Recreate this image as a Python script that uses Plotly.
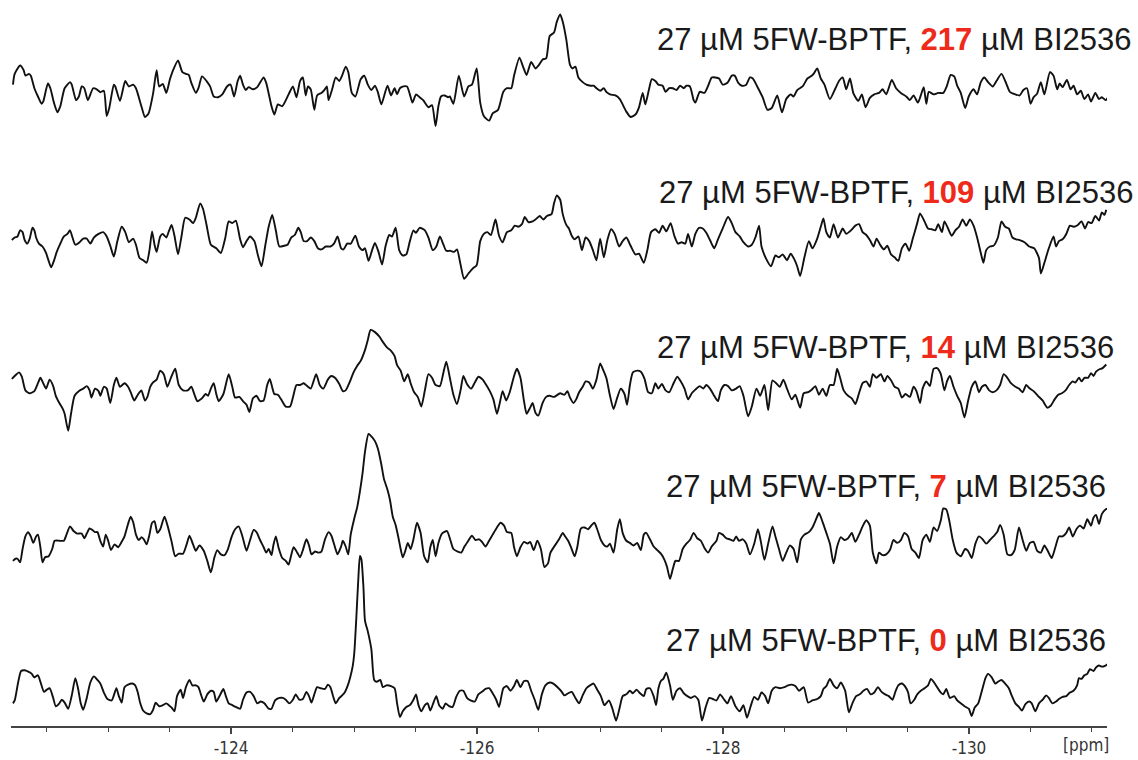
import plotly.graph_objects as go

spec_217 = [(-122.227,115),(-122.241,145),(-122.285,168),(-122.314,155),(-122.328,140),(-122.357,145),(-122.372,140),(-122.401,105),(-122.430,82),(-122.459,62),
(-122.473,68),(-122.511,118),(-122.531,105),(-122.560,65),(-122.589,38),(-122.612,55),(-122.647,105),(-122.691,122),(-122.705,115),(-122.740,72),
(-122.763,82),(-122.786,110),(-122.807,105),(-122.836,72),(-122.879,105),(-122.908,102),(-122.937,94),(-122.966,98),(-122.989,28),(-123.010,50),
(-123.047,115),(-123.059,110),(-123.097,70),(-123.140,125),(-123.169,110),(-123.204,115),(-123.227,105),(-123.271,55),(-123.300,25),(-123.329,35),
(-123.366,90),(-123.395,155),(-123.416,110),(-123.445,117),(-123.474,92),(-123.503,130),(-123.523,150),(-123.569,182),(-123.604,150),(-123.633,145),
(-123.656,142),(-123.677,120),(-123.714,92),(-123.735,105),(-123.764,138),(-123.801,125),(-123.830,110),(-123.859,82),(-123.894,80),(-123.929,88),
(-123.967,110),(-123.996,115),(-124.025,82),(-124.054,125),(-124.074,140),(-124.097,115),(-124.120,100),(-124.143,108),(-124.178,102),(-124.213,108),
(-124.265,135),(-124.286,120),(-124.329,55),(-124.352,32),(-124.381,60),(-124.416,55),(-124.468,88),(-124.503,110),(-124.532,80),(-124.561,125),
(-124.584,135),(-124.607,85),(-124.625,110),(-124.648,102),(-124.677,45),(-124.700,85),(-124.735,92),(-124.758,100),(-124.779,110),(-124.793,72),
(-124.822,102),(-124.851,135),(-124.880,125),(-124.903,140),(-124.932,165),(-124.953,150),(-124.982,92),(-125.011,82),(-125.054,130),(-125.083,140),
(-125.112,115),(-125.141,100),(-125.170,112),(-125.193,95),(-125.222,60),(-125.272,112),(-125.301,85),(-125.330,105),(-125.350,88),(-125.373,105),
(-125.402,110),(-125.431,110),(-125.454,88),(-125.475,65),(-125.504,88),(-125.533,80),(-125.562,72),(-125.582,62),(-125.605,52),(-125.634,58),
(-125.663,0),(-125.686,55),(-125.707,82),(-125.736,85),(-125.765,80),(-125.779,82),(-125.808,62),(-125.852,140),(-125.895,82),(-125.930,110),
(-125.959,115),(-125.997,160),(-126.026,65),(-126.055,28),(-126.098,15),(-126.127,35),(-126.171,45),(-126.214,95),(-126.243,105),(-126.278,105),
(-126.301,140),(-126.345,190),(-126.374,165),(-126.403,142),(-126.440,178),(-126.475,160),(-126.504,170),(-126.533,185),(-126.562,188),(-126.591,250),
(-126.626,260),(-126.649,290),(-126.676,310),(-126.697,290),(-126.726,240),(-126.756,170),(-126.776,160),(-126.800,165),(-126.824,135),(-126.859,122),
(-126.889,115),(-126.924,112),(-126.948,112),(-126.971,105),(-127.001,98),(-127.031,105),(-127.051,95),(-127.081,88),(-127.125,85),(-127.161,75),
(-127.184,60),(-127.214,40),(-127.249,25),(-127.288,32),(-127.317,52),(-127.347,92),(-127.368,60),(-127.397,100),(-127.421,130),(-127.450,125),
(-127.474,115),(-127.509,112),(-127.533,95),(-127.563,105),(-127.592,105),(-127.622,100),(-127.651,112),(-127.681,105),(-127.702,112),(-127.731,110),
(-127.761,72),(-127.775,65),(-127.811,95),(-127.849,92),(-127.879,112),(-127.908,135),(-127.938,135),(-127.968,132),(-127.997,115),(-128.036,120),
(-128.071,140),(-128.095,140),(-128.124,120),(-128.154,112),(-128.189,115),(-128.219,135),(-128.242,132),(-128.278,110),(-128.322,80),(-128.361,45),
(-128.396,50),(-128.441,85),(-128.479,38),(-128.514,75),(-128.550,88),(-128.574,82),(-128.603,100),(-128.647,110),(-128.686,132),(-128.715,138),
(-128.736,145),(-128.766,160),(-128.795,132),(-128.825,115),(-128.869,75),(-128.914,105),(-128.943,125),(-128.973,135),(-129.002,102),(-129.032,132),
(-129.061,90),(-129.100,70),(-129.129,88),(-129.159,52),(-129.194,78),(-129.230,88),(-129.268,92),(-129.298,102),(-129.327,88),(-129.372,128),
(-129.407,105),(-129.446,92),(-129.490,82),(-129.519,72),(-129.549,85),(-129.585,65),(-129.608,85),(-129.632,108),(-129.653,62),(-129.673,95),
(-129.712,88),(-129.750,92),(-129.791,92),(-129.821,112),(-129.851,142),(-129.880,138),(-129.904,112),(-129.933,92),(-129.969,50),(-129.998,82),
(-130.037,102),(-130.066,88),(-130.096,122),(-130.125,135),(-130.155,122),(-130.193,110),(-130.223,125),(-130.264,145),(-130.303,118),(-130.332,95),
(-130.377,88),(-130.412,85),(-130.442,100),(-130.471,105),(-130.501,62),(-130.525,80),(-130.554,90),(-130.584,122),(-130.613,88),(-130.658,150),
(-130.687,140),(-130.717,102),(-130.737,118),(-130.761,108),(-130.796,128),(-130.826,102),(-130.850,112),(-130.879,88),(-130.909,98),(-130.938,75),
(-130.968,88),(-130.992,68),(-131.027,92),(-131.057,75),(-131.080,80),(-131.110,72),(-131.131,80)]

spec_109 = [(-122.218,118),(-122.241,125),(-122.264,128),(-122.285,145),(-122.305,140),(-122.322,118),(-122.343,108),(-122.363,122),(-122.386,152),(-122.401,145),
(-122.415,125),(-122.438,108),(-122.467,100),(-122.496,82),(-122.517,60),(-122.537,42),(-122.560,60),(-122.583,85),(-122.612,108),(-122.641,128),
(-122.670,135),(-122.691,145),(-122.711,125),(-122.734,105),(-122.769,112),(-122.798,122),(-122.827,122),(-122.856,108),(-122.885,125),(-122.923,135),
(-122.960,140),(-122.989,128),(-123.018,102),(-123.047,72),(-123.076,115),(-123.111,155),(-123.140,140),(-123.169,112),(-123.204,122),(-123.227,105),
(-123.256,68),(-123.285,62),(-123.314,55),(-123.337,90),(-123.358,142),(-123.378,105),(-123.395,85),(-123.424,128),(-123.445,135),(-123.474,125),
(-123.494,142),(-123.517,160),(-123.540,130),(-123.569,78),(-123.598,130),(-123.627,180),(-123.662,175),(-123.691,165),(-123.714,180),(-123.749,220),
(-123.772,205),(-123.801,160),(-123.836,105),(-123.880,95),(-123.917,82),(-123.952,122),(-123.981,170),(-124.010,165),(-124.039,172),(-124.074,120),
(-124.097,98),(-124.126,115),(-124.155,128),(-124.190,115),(-124.219,75),(-124.248,45),(-124.277,100),(-124.306,155),(-124.335,188),(-124.364,145),
(-124.393,100),(-124.431,102),(-124.460,105),(-124.489,125),(-124.518,132),(-124.547,152),(-124.567,140),(-124.590,115),(-124.619,115),(-124.648,125),
(-124.677,115),(-124.706,95),(-124.735,92),(-124.770,100),(-124.808,100),(-124.837,108),(-124.866,128),(-124.895,95),(-124.915,92),(-124.944,108),
(-124.973,108),(-125.011,130),(-125.040,100),(-125.069,90),(-125.089,95),(-125.118,60),(-125.147,90),(-125.170,110),(-125.199,85),(-125.228,50),
(-125.257,102),(-125.286,132),(-125.309,128),(-125.338,152),(-125.367,90),(-125.396,75),(-125.425,78),(-125.454,115),(-125.483,145),(-125.504,138),
(-125.533,152),(-125.576,145),(-125.605,125),(-125.640,90),(-125.669,100),(-125.698,128),(-125.727,105),(-125.750,88),(-125.785,88),(-125.814,85),
(-125.837,92),(-125.866,50),(-125.895,10),(-125.930,25),(-125.968,40),(-125.997,48),(-126.026,115),(-126.055,135),(-126.084,140),(-126.113,132),
(-126.150,175),(-126.179,130),(-126.208,112),(-126.243,140),(-126.278,145),(-126.307,158),(-126.336,155),(-126.365,162),(-126.388,182),(-126.417,168),
(-126.452,170),(-126.475,175),(-126.510,185),(-126.539,175),(-126.568,185),(-126.606,190),(-126.626,220),(-126.649,242),(-126.676,230),(-126.697,190),
(-126.726,160),(-126.747,150),(-126.770,130),(-126.794,120),(-126.824,128),(-126.853,90),(-126.883,125),(-126.912,115),(-126.942,90),(-126.971,62),
(-127.001,122),(-127.031,70),(-127.060,118),(-127.090,148),(-127.119,135),(-127.155,100),(-127.184,115),(-127.214,125),(-127.249,102),(-127.288,78),
(-127.317,80),(-127.356,55),(-127.385,90),(-127.415,140),(-127.450,148),(-127.480,138),(-127.509,158),(-127.539,142),(-127.574,165),(-127.604,130),
(-127.634,108),(-127.663,112),(-127.693,108),(-127.716,135),(-127.746,100),(-127.775,135),(-127.805,152),(-127.835,150),(-127.864,138),(-127.894,118),
(-127.929,95),(-127.959,120),(-127.997,150),(-128.041,182),(-128.071,165),(-128.101,140),(-128.136,128),(-128.166,112),(-128.204,100),(-128.234,105),
(-128.263,125),(-128.293,158),(-128.313,100),(-128.352,65),(-128.390,45),(-128.426,75),(-128.455,70),(-128.485,78),(-128.520,62),(-128.550,80),
(-128.579,65),(-128.603,45),(-128.627,18),(-128.662,70),(-128.698,115),(-128.727,95),(-128.766,122),(-128.795,155),(-128.816,178),(-128.840,140),
(-128.869,125),(-128.899,162),(-128.934,125),(-128.973,150),(-129.002,135),(-129.041,145),(-129.076,158),(-129.106,162),(-129.135,140),(-129.165,132),
(-129.194,118),(-129.224,100),(-129.248,122),(-129.277,105),(-129.307,92),(-129.336,102),(-129.366,78),(-129.395,70),(-129.425,60),(-129.454,95),
(-129.484,108),(-129.514,88),(-129.543,122),(-129.579,165),(-129.602,192),(-129.638,170),(-129.667,150),(-129.697,148),(-129.726,145),(-129.750,162),
(-129.780,140),(-129.800,170),(-129.830,150),(-129.859,130),(-129.889,145),(-129.919,155),(-129.948,175),(-129.978,158),(-130.007,175),(-130.037,158),
(-130.066,125),(-130.096,82),(-130.117,55),(-130.140,90),(-130.170,100),(-130.199,102),(-130.235,125),(-130.264,170),(-130.294,155),(-130.324,150),
(-130.353,125),(-130.383,120),(-130.412,118),(-130.451,112),(-130.489,100),(-130.530,95),(-130.569,68),(-130.584,25),(-130.613,55),(-130.649,95),
(-130.687,128),(-130.708,100),(-130.731,115),(-130.761,120),(-130.791,135),(-130.820,158),(-130.850,155),(-130.885,160),(-130.915,170),(-130.944,150),
(-130.968,168),(-130.997,165),(-131.027,185),(-131.057,172),(-131.080,195),(-131.101,188),(-131.116,202)]

spec_14 = [(-122.218,147),(-122.247,157),(-122.276,165),(-122.299,153),(-122.328,115),(-122.363,107),(-122.401,113),(-122.430,135),(-122.450,150),(-122.473,135),
(-122.496,120),(-122.525,145),(-122.554,127),(-122.575,100),(-122.604,80),(-122.633,63),(-122.647,50),(-122.676,3),(-122.699,50),(-122.728,100),
(-122.769,115),(-122.798,120),(-122.827,127),(-122.850,115),(-122.865,95),(-122.894,120),(-122.923,113),(-122.937,100),(-122.966,125),(-122.989,120),
(-123.018,80),(-123.047,130),(-123.068,150),(-123.097,125),(-123.134,135),(-123.163,125),(-123.184,110),(-123.213,87),(-123.242,103),(-123.271,115),
(-123.300,87),(-123.320,97),(-123.343,125),(-123.366,137),(-123.395,145),(-123.424,170),(-123.453,160),(-123.482,125),(-123.511,150),(-123.546,175),
(-123.575,130),(-123.610,115),(-123.648,115),(-123.677,125),(-123.706,100),(-123.726,85),(-123.764,93),(-123.793,105),(-123.813,100),(-123.836,120),
(-123.859,135),(-123.880,105),(-123.900,85),(-123.938,105),(-123.981,160),(-124.010,125),(-124.033,95),(-124.068,97),(-124.097,85),(-124.126,75),
(-124.149,55),(-124.178,93),(-124.207,100),(-124.236,85),(-124.265,87),(-124.294,130),(-124.315,147),(-124.352,105),(-124.381,103),(-124.416,85),
(-124.445,70),(-124.480,70),(-124.503,95),(-124.532,130),(-124.561,130),(-124.590,135),(-124.619,127),(-124.648,120),(-124.692,160),(-124.721,130),
(-124.750,120),(-124.787,145),(-124.816,155),(-124.845,150),(-124.880,133),(-124.909,113),(-124.932,115),(-124.961,135),(-124.996,165),(-125.025,183),
(-125.054,197),(-125.089,227),(-125.112,255),(-125.135,283),(-125.170,277),(-125.205,265),(-125.234,250),(-125.272,233),(-125.301,225),(-125.330,210),
(-125.350,185),(-125.379,170),(-125.408,140),(-125.437,160),(-125.460,135),(-125.489,110),(-125.518,97),(-125.547,70),(-125.576,115),(-125.605,160),
(-125.634,150),(-125.663,130),(-125.698,127),(-125.727,165),(-125.750,195),(-125.779,150),(-125.808,103),(-125.837,77),(-125.866,115),(-125.889,155),
(-125.918,133),(-125.953,120),(-125.982,137),(-126.011,153),(-126.046,145),(-126.075,130),(-126.104,113),(-126.133,90),(-126.162,50),(-126.185,80),
(-126.208,113),(-126.237,87),(-126.266,110),(-126.301,155),(-126.324,175),(-126.353,150),(-126.382,85),(-126.403,50),(-126.432,67),(-126.452,80),
(-126.475,53),(-126.498,45),(-126.533,80),(-126.562,97),(-126.591,100),(-126.626,97),(-126.676,107),(-126.711,103),(-126.735,113),(-126.756,95),
(-126.785,80),(-126.806,90),(-126.830,110),(-126.859,125),(-126.883,140),(-126.912,137),(-126.942,120),(-126.971,145),(-127.001,190),(-127.022,175),
(-127.051,150),(-127.081,100),(-127.110,63),(-127.140,95),(-127.169,120),(-127.199,105),(-127.220,75),(-127.243,130),(-127.267,165),(-127.302,170),
(-127.332,167),(-127.362,147),(-127.391,110),(-127.421,107),(-127.450,135),(-127.474,120),(-127.503,133),(-127.533,115),(-127.563,110),(-127.598,135),
(-127.628,153),(-127.657,140),(-127.687,120),(-127.716,90),(-127.746,107),(-127.775,117),(-127.811,127),(-127.840,120),(-127.864,130),(-127.894,120),
(-127.923,103),(-127.959,85),(-127.982,115),(-128.012,130),(-128.041,127),(-128.071,115),(-128.107,120),(-128.136,127),(-128.166,100),(-128.204,43),
(-128.234,70),(-128.272,120),(-128.302,100),(-128.337,130),(-128.367,60),(-128.402,143),(-128.432,135),(-128.461,125),(-128.491,145),(-128.520,120),
(-128.559,90),(-128.588,103),(-128.627,67),(-128.656,107),(-128.692,110),(-128.721,117),(-128.751,127),(-128.780,103),(-128.810,120),(-128.840,100),
(-128.869,130),(-128.899,130),(-128.928,175),(-128.952,150),(-128.981,115),(-129.017,100),(-129.047,93),(-129.076,77),(-129.106,107),(-129.135,135),
(-129.165,140),(-129.194,125),(-129.218,160),(-129.248,150),(-129.283,160),(-129.313,140),(-129.336,155),(-129.366,143),(-129.395,125),(-129.425,120),
(-129.454,95),(-129.484,105),(-129.519,97),(-129.549,125),(-129.573,113),(-129.602,80),(-129.623,120),(-129.653,140),(-129.682,127),(-129.712,175),
(-129.741,177),(-129.771,160),(-129.800,115),(-129.821,140),(-129.845,155),(-129.874,125),(-129.904,100),(-129.933,80),(-129.963,40),(-129.992,85),
(-130.022,125),(-130.052,140),(-130.081,110),(-130.105,125),(-130.134,130),(-130.164,115),(-130.193,110),(-130.223,115),(-130.253,130),(-130.282,160),
(-130.312,150),(-130.341,135),(-130.377,125),(-130.406,120),(-130.436,110),(-130.465,130),(-130.495,120),(-130.525,113),(-130.560,100),(-130.598,87),
(-130.637,67),(-130.666,73),(-130.696,90),(-130.726,103),(-130.755,107),(-130.785,115),(-130.814,130),(-130.844,140),(-130.864,137),(-130.894,150),
(-130.915,140),(-130.938,150),(-130.968,150),(-130.992,163),(-131.012,155),(-131.033,167),(-131.057,173),(-131.086,177),(-131.116,187)]

spec_7 = [(-122.227,52),(-122.247,58),(-122.264,58),(-122.285,48),(-122.305,85),(-122.328,120),(-122.351,132),(-122.372,120),(-122.392,102),(-122.415,120),
(-122.430,125),(-122.450,90),(-122.467,48),(-122.488,62),(-122.517,65),(-122.546,85),(-122.566,108),(-122.604,108),(-122.641,108),(-122.662,125),
(-122.691,148),(-122.720,135),(-122.749,128),(-122.786,128),(-122.807,115),(-122.827,128),(-122.850,142),(-122.873,138),(-122.894,132),(-122.914,132),
(-122.937,108),(-122.960,92),(-122.981,125),(-123.001,108),(-123.024,82),(-123.053,98),(-123.082,90),(-123.111,105),(-123.134,120),(-123.163,155),
(-123.184,175),(-123.204,160),(-123.227,125),(-123.250,110),(-123.273,118),(-123.291,112),(-123.314,98),(-123.337,125),(-123.358,158),(-123.378,162),
(-123.401,130),(-123.424,140),(-123.459,175),(-123.488,145),(-123.517,105),(-123.546,65),(-123.575,72),(-123.610,72),(-123.639,98),(-123.662,122),
(-123.691,98),(-123.714,80),(-123.743,95),(-123.778,80),(-123.807,52),(-123.836,20),(-123.865,62),(-123.888,82),(-123.917,70),(-123.946,68),
(-123.975,85),(-124.004,118),(-124.033,140),(-124.062,148),(-124.091,122),(-124.126,80),(-124.155,110),(-124.184,138),(-124.207,132),(-124.236,110),
(-124.265,90),(-124.286,75),(-124.306,85),(-124.329,68),(-124.344,95),(-124.364,120),(-124.387,88),(-124.416,60),(-124.445,52),(-124.468,42),
(-124.489,68),(-124.509,90),(-124.538,75),(-124.561,62),(-124.584,82),(-124.613,112),(-124.634,95),(-124.654,70),(-124.683,78),(-124.712,75),
(-124.735,78),(-124.764,112),(-124.793,132),(-124.816,122),(-124.845,90),(-124.866,70),(-124.895,92),(-124.909,108),(-124.932,92),(-124.953,70),
(-124.973,125),(-125.002,170),(-125.025,200),(-125.048,245),(-125.069,295),(-125.089,355),(-125.118,405),(-125.141,398),(-125.170,385),(-125.193,365),
(-125.222,320),(-125.243,280),(-125.272,250),(-125.292,222),(-125.315,175),(-125.338,152),(-125.359,120),(-125.379,85),(-125.396,62),(-125.417,80),
(-125.437,102),(-125.460,85),(-125.483,112),(-125.512,158),(-125.541,130),(-125.570,65),(-125.599,48),(-125.620,90),(-125.640,110),(-125.663,65),
(-125.686,102),(-125.715,128),(-125.756,135),(-125.785,108),(-125.808,85),(-125.843,78),(-125.872,75),(-125.895,90),(-125.924,105),(-125.959,122),
(-125.988,110),(-126.017,112),(-126.040,105),(-126.069,92),(-126.098,108),(-126.127,125),(-126.162,145),(-126.191,158),(-126.220,150),(-126.243,132),
(-126.278,130),(-126.301,90),(-126.324,65),(-126.353,90),(-126.382,105),(-126.411,100),(-126.432,105),(-126.461,82),(-126.490,108),(-126.519,85),
(-126.548,35),(-126.577,45),(-126.597,75),(-126.667,112),(-126.697,130),(-126.717,120),(-126.741,108),(-126.764,90),(-126.794,65),(-126.815,90),
(-126.844,142),(-126.874,145),(-126.903,140),(-126.933,152),(-126.954,158),(-126.977,140),(-127.007,110),(-127.036,95),(-127.060,92),(-127.081,100),
(-127.110,75),(-127.140,140),(-127.161,168),(-127.184,130),(-127.214,108),(-127.243,102),(-127.273,95),(-127.302,102),(-127.332,82),(-127.356,125),
(-127.376,130),(-127.406,112),(-127.436,92),(-127.465,82),(-127.495,72),(-127.524,55),(-127.545,35),(-127.569,2),(-127.592,30),(-127.613,52),
(-127.642,52),(-127.672,85),(-127.702,100),(-127.731,110),(-127.761,130),(-127.790,115),(-127.820,108),(-127.849,88),(-127.879,75),(-127.908,92),
(-127.947,108),(-127.968,130),(-127.997,125),(-128.027,115),(-128.056,112),(-128.086,108),(-128.107,120),(-128.130,108),(-128.160,112),(-128.189,100),
(-128.219,70),(-128.254,100),(-128.284,140),(-128.308,105),(-128.337,55),(-128.367,100),(-128.402,148),(-128.426,120),(-128.455,85),(-128.485,52),
(-128.514,75),(-128.544,95),(-128.574,85),(-128.603,48),(-128.633,112),(-128.662,125),(-128.698,132),(-128.727,145),(-128.757,168),(-128.780,185),
(-128.810,160),(-128.840,130),(-128.869,100),(-128.899,45),(-128.928,92),(-128.958,118),(-128.987,110),(-129.017,115),(-129.047,130),(-129.076,105),
(-129.106,125),(-129.135,148),(-129.165,165),(-129.194,150),(-129.218,75),(-129.248,45),(-129.268,75),(-129.298,68),(-129.327,70),(-129.357,82),
(-129.386,110),(-129.416,102),(-129.446,110),(-129.475,130),(-129.505,120),(-129.534,85),(-129.564,75),(-129.593,60),(-129.623,110),(-129.653,125),
(-129.682,105),(-129.712,145),(-129.741,135),(-129.771,165),(-129.791,198),(-129.815,195),(-129.839,165),(-129.868,110),(-129.898,75),(-129.933,65),
(-129.969,85),(-129.992,80),(-130.022,60),(-130.052,100),(-130.081,120),(-130.111,112),(-130.140,100),(-130.170,110),(-130.199,120),(-130.229,132),
(-130.253,152),(-130.282,125),(-130.312,70),(-130.341,68),(-130.371,82),(-130.406,145),(-130.436,110),(-130.465,80),(-130.495,102),(-130.525,105),
(-130.554,80),(-130.584,75),(-130.613,95),(-130.643,78),(-130.672,60),(-130.702,90),(-130.731,120),(-130.761,120),(-130.791,130),(-130.814,145),
(-130.844,120),(-130.873,140),(-130.903,150),(-130.932,142),(-130.962,168),(-130.992,150),(-131.012,172),(-131.033,180),(-131.057,155),(-131.080,182),
(-131.110,195),(-131.131,198)]

spec_0 = [(-122.227,50),(-122.241,58),(-122.270,110),(-122.293,140),(-122.322,142),(-122.351,138),(-122.380,132),(-122.401,122),(-122.430,128),(-122.450,110),
(-122.479,82),(-122.502,88),(-122.525,92),(-122.554,65),(-122.575,42),(-122.604,50),(-122.624,60),(-122.647,52),(-122.676,35),(-122.705,72),
(-122.734,120),(-122.757,90),(-122.778,50),(-122.798,32),(-122.827,65),(-122.856,108),(-122.885,125),(-122.914,115),(-122.937,105),(-122.966,80),
(-122.995,62),(-123.030,58),(-123.047,72),(-123.068,92),(-123.088,70),(-123.111,52),(-123.134,95),(-123.163,102),(-123.198,105),(-123.221,100),
(-123.242,80),(-123.262,50),(-123.285,30),(-123.314,22),(-123.343,20),(-123.366,32),(-123.387,52),(-123.416,42),(-123.445,45),(-123.474,50),
(-123.494,45),(-123.517,38),(-123.540,28),(-123.561,70),(-123.590,88),(-123.610,65),(-123.633,95),(-123.662,115),(-123.685,100),(-123.714,100),
(-123.735,95),(-123.755,75),(-123.778,55),(-123.807,75),(-123.836,85),(-123.859,82),(-123.880,55),(-123.909,72),(-123.938,90),(-123.958,70),
(-123.981,50),(-124.010,45),(-124.039,40),(-124.074,35),(-124.097,60),(-124.126,80),(-124.155,82),(-124.184,70),(-124.213,50),(-124.242,55),
(-124.271,50),(-124.306,35),(-124.329,35),(-124.358,58),(-124.393,65),(-124.422,65),(-124.445,60),(-124.474,50),(-124.503,60),(-124.526,75),
(-124.555,60),(-124.584,62),(-124.613,82),(-124.634,70),(-124.654,52),(-124.677,75),(-124.700,95),(-124.729,92),(-124.764,90),(-124.787,102),
(-124.808,95),(-124.828,72),(-124.851,50),(-124.880,65),(-124.903,72),(-124.924,80),(-124.944,95),(-124.967,120),(-124.990,155),(-125.002,190),
(-125.019,290),(-125.034,390),(-125.048,460),(-125.060,450),(-125.077,370),(-125.089,280),(-125.112,250),(-125.141,200),(-125.164,115),(-125.185,110),
(-125.214,115),(-125.234,95),(-125.263,100),(-125.301,98),(-125.330,92),(-125.350,50),(-125.373,12),(-125.396,28),(-125.425,40),(-125.454,45),
(-125.483,60),(-125.504,75),(-125.524,45),(-125.547,28),(-125.576,45),(-125.599,50),(-125.620,30),(-125.649,55),(-125.669,70),(-125.692,45),
(-125.721,35),(-125.744,50),(-125.773,42),(-125.802,40),(-125.831,68),(-125.860,85),(-125.889,85),(-125.918,65),(-125.947,58),(-125.982,55),
(-126.011,75),(-126.040,82),(-126.069,90),(-126.098,92),(-126.127,78),(-126.156,60),(-126.179,40),(-126.214,92),(-126.243,98),(-126.272,85),
(-126.301,98),(-126.324,115),(-126.353,95),(-126.382,112),(-126.411,112),(-126.440,85),(-126.469,60),(-126.498,32),(-126.527,75),(-126.556,100),
(-126.591,108),(-126.620,105),(-126.682,85),(-126.711,72),(-126.741,78),(-126.770,82),(-126.800,65),(-126.830,50),(-126.859,72),(-126.889,92),
(-126.918,100),(-126.948,105),(-126.977,88),(-127.007,70),(-127.036,45),(-127.072,58),(-127.101,35),(-127.131,2),(-127.161,40),(-127.184,70),
(-127.214,75),(-127.243,85),(-127.267,78),(-127.297,88),(-127.326,78),(-127.356,70),(-127.376,90),(-127.406,92),(-127.436,70),(-127.456,45),
(-127.474,90),(-127.495,112),(-127.515,118),(-127.539,135),(-127.569,100),(-127.592,60),(-127.622,85),(-127.651,92),(-127.681,78),(-127.710,70),
(-127.740,65),(-127.770,70),(-127.799,60),(-127.829,2),(-127.858,38),(-127.888,65),(-127.917,62),(-127.947,58),(-127.976,75),(-128.006,62),
(-128.036,50),(-128.065,70),(-128.101,42),(-128.136,28),(-128.166,45),(-128.195,10),(-128.225,42),(-128.254,68),(-128.284,60),(-128.313,80),
(-128.343,70),(-128.367,50),(-128.396,85),(-128.426,95),(-128.461,92),(-128.500,95),(-128.529,100),(-128.559,102),(-128.588,98),(-128.618,85),
(-128.656,95),(-128.692,52),(-128.727,58),(-128.766,62),(-128.795,70),(-128.816,90),(-128.840,98),(-128.869,118),(-128.899,100),(-128.928,92),
(-128.958,108),(-128.993,85),(-129.023,25),(-129.052,50),(-129.082,70),(-129.112,75),(-129.141,85),(-129.171,90),(-129.200,75),(-129.230,80),
(-129.259,95),(-129.289,82),(-129.318,75),(-129.348,70),(-129.378,60),(-129.401,82),(-129.425,100),(-129.454,105),(-129.484,95),(-129.505,80),
(-129.525,50),(-129.555,60),(-129.579,75),(-129.608,85),(-129.638,92),(-129.667,100),(-129.691,118),(-129.712,110),(-129.741,95),(-129.771,80),
(-129.791,75),(-129.815,90),(-129.845,65),(-129.880,70),(-129.904,58),(-129.933,50),(-129.963,42),(-129.998,35),(-130.022,15),(-130.046,38),
(-130.075,50),(-130.105,85),(-130.134,120),(-130.155,132),(-130.185,122),(-130.214,105),(-130.235,110),(-130.264,115),(-130.294,105),(-130.324,92),
(-130.347,72),(-130.377,50),(-130.406,40),(-130.430,30),(-130.459,48),(-130.489,55),(-130.510,50),(-130.539,28),(-130.569,50),(-130.598,60),
(-130.628,72),(-130.649,65),(-130.678,50),(-130.708,55),(-130.731,62),(-130.761,68),(-130.791,70),(-130.820,80),(-130.850,85),(-130.879,100),
(-130.894,120),(-130.915,118),(-130.938,128),(-130.962,132),(-130.983,145),(-131.012,140),(-131.033,150),(-131.057,155),(-131.080,152),(-131.110,155),
(-131.131,160)]

spectra = [spec_217, spec_109, spec_14, spec_7, spec_0]
ligand_uM = ["217", "109", "14", "7", "0"]
protein_label = "27 µM 5FW-BPTF"
ligand_name = "BI2536"
tick_ppm = [-124, -126, -128, -130]

# ---- stacking / layout (not data) ----
stack_offset = [1668, 1233, 818, 407, 13]
label_pos = [(0.588, 0.945), (0.589, 0.735), (0.588, 0.522), (0.596, 0.330), (0.596, 0.118)]

fig = go.Figure()
for spec, off in zip(spectra, stack_offset):
    fig.add_trace(go.Scatter(
        x=[p for p, _ in spec],
        y=[v + off for _, v in spec],
        mode="lines",
        line=dict(color="#111111", width=1.9, shape="spline", smoothing=0.6),
        hoverinfo="skip", showlegend=False))

for conc, (lx, ly) in zip(ligand_uM, label_pos):
    fig.add_annotation(
        xref="paper", yref="paper", x=lx, y=ly, xanchor="left", yanchor="middle",
        showarrow=False,
        text=f"{protein_label}, <b><span style='color:#ee2a1b'>{conc}</span></b> µM {ligand_name}",
        font=dict(family="Liberation Sans, Arial, sans-serif", size=31, color="#1a1a1a"))

fig.add_annotation(xref="paper", yref="paper", x=0.981, y=-0.026, xanchor="center", yanchor="middle",
                   showarrow=False, text="[ppm]",
                   font=dict(family="Liberation Sans Narrow, DejaVu Sans Condensed, Liberation Sans", size=17, color="#333333"))

fig.update_layout(
    width=1138, height=760, autosize=False,
    margin=dict(l=11, r=31, t=0, b=34, pad=0),
    paper_bgcolor="white", plot_bgcolor="white",
    xaxis=dict(range=[-122.211, -131.122], showgrid=False, zeroline=False, automargin=False,
               showline=True, linecolor="#444444", linewidth=1.5,
               ticks="outside", ticklen=6, tickwidth=1.5, tickcolor="#444444",
               tickmode="array", tickvals=tick_ppm, ticktext=[str(t) for t in tick_ppm],
               tickfont=dict(family="Liberation Sans Narrow, DejaVu Sans Condensed, Liberation Sans", size=17, color="#333333"),
               minor=dict(tickmode="linear", tick0=-124, dtick=0.5, ticks="outside", ticklen=4,
                          tickwidth=1.2, tickcolor="#444444", showgrid=False)),
    yaxis=dict(range=[0, 2018.3], visible=False, showgrid=False, zeroline=False, automargin=False),
    showlegend=False,
)

fig.write_html("out.html")
